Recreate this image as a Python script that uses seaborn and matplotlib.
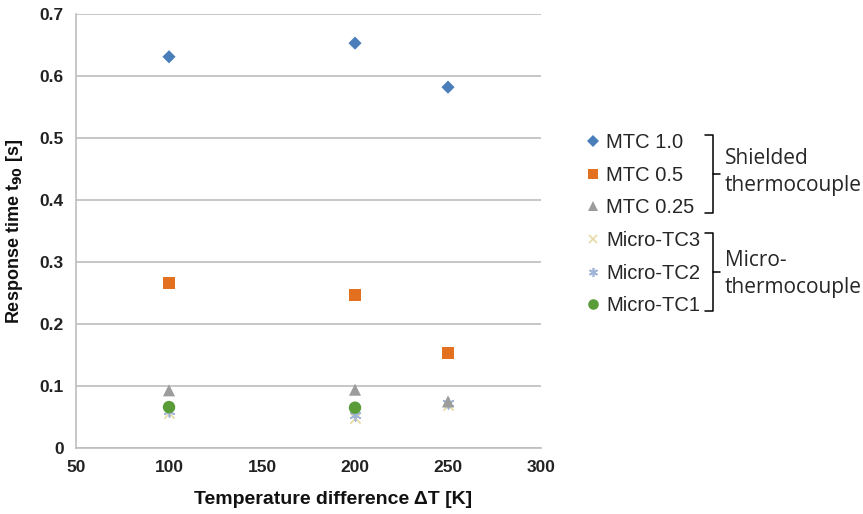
import matplotlib
matplotlib.use("Agg")
import matplotlib.pyplot as plt
import numpy as np
import pandas as pd
import seaborn as sns
from matplotlib.lines import Line2D

# Data
delta_t = [100, 200, 250]
mtc_10 = [0.631, 0.653, 0.582]
mtc_05 = [0.266, 0.247, 0.153]
mtc_025 = [0.093, 0.094, 0.075]
micro_tc3 = [0.056, 0.049, 0.069]
micro_tc2 = [0.060, 0.054, 0.072]
micro_tc1 = [0.066, 0.065, np.nan]

series_names = ["MTC 1.0", "MTC 0.5", "MTC 0.25", "Micro-TC3", "Micro-TC2", "Micro-TC1"]
series_vals = [mtc_10, mtc_05, mtc_025, micro_tc3, micro_tc2, micro_tc1]
colors = ["#4A7EBB", "#E2701E", "#9C9C9C", "#E6D9A2", "#9FB4D6", "#5A9C38"]
markers = ["D", "s", "^", "x", (6, 2, 0), "o"]
sizes = [45, 75, 75, 55, 60, 80]
layer = [6, 6, 6, 3, 4, 5]

rows = []
for name, vals in zip(series_names, series_vals):
    for x, y in zip(delta_t, vals):
        rows.append({"dT": x, "t90": y, "series": name})
df = pd.DataFrame(rows).dropna()

sns.set_style("white")
plt.rcParams["font.family"] = ["Liberation Sans", "DejaVu Sans"]

fig = plt.figure(figsize=(8.63, 5.14), dpi=100)
ax = fig.add_axes([76 / 863, 1 - 448 / 514, 465 / 863, 434 / 514])

for name, col, mk, sz, z in zip(series_names, colors, markers, sizes, layer):
    sub = df[df["series"] == name]
    lw = 1.2 if mk in ("x", (6, 2, 0)) else 0
    sns.scatterplot(data=sub, x="dT", y="t90", ax=ax, color=col, marker=mk,
                    s=sz, linewidth=lw, edgecolor=col if lw else "none",
                    legend=False, zorder=z)

ax.set_xlim(50, 300)
ax.set_ylim(0, 0.7)
ax.set_xticks(np.arange(50, 301, 50))
ax.set_yticks(np.arange(0, 0.71, 0.1))
ax.set_yticklabels(["0"] + [f"{v:.1f}" for v in np.arange(0.1, 0.71, 0.1)])
ax.yaxis.grid(True, color="#BEBEBE", linewidth=1.2)
ax.xaxis.grid(False)
for s in ["top", "right"]:
    ax.spines[s].set_visible(False)
for s in ["left", "bottom"]:
    ax.spines[s].set_color("#BEBEBE")
    ax.spines[s].set_linewidth(1.2)
ax.tick_params(axis="both", which="both", length=5, color="#BEBEBE",
               labelsize=12.5, pad=4)
for lab in ax.get_xticklabels() + ax.get_yticklabels():
    lab.set_fontweight("bold")
    lab.set_color("#222222")

ax.set_xlabel("Temperature difference ΔT [K]", fontsize=14,
              fontweight="bold", color="#111111")
ax.xaxis.set_label_coords(0.553, -0.098)
ax.set_ylabel("Response time t$_{\\mathbf{90}}$ [s]", fontsize=13,
              fontweight="bold", labelpad=10, color="#111111")

# legend
handles = []
for col, mk, sz in zip(colors, markers, sizes):
    ms = np.sqrt(sz) * 0.85
    handles.append(Line2D([], [], linestyle="none", marker=mk, color=col,
                          markersize=ms, markeredgewidth=1.2 if mk in ("x", (6, 2, 0)) else 0))
fig.legend(handles, series_names, loc="upper left",
           bbox_to_anchor=(586 / 863, 1 - 133 / 514), frameon=False,
           fontsize=14.5, handlelength=0.7, handletextpad=0.3,
           labelspacing=0.68, borderaxespad=0, borderpad=0)


def px(x, y):
    return x / 863, 1 - y / 514


def bracket(top, bottom, x=713, hook=8, tip=7):
    mid = (top + bottom) / 2
    pts = [(x - hook, top), (x, top), (x, bottom), (x - hook, bottom)]
    xs, ys = zip(*[px(a, b) for a, b in pts])
    fig.add_artist(Line2D(xs, ys, color="black", linewidth=1.1))
    xs, ys = zip(px(x, mid), px(x + tip, mid))
    fig.add_artist(Line2D(xs, ys, color="black", linewidth=1.1))


bracket(135, 213)
bracket(233, 311)

grp_font = ["Open Sans", "DejaVu Sans"]
fig.text(*px(725, 158), "Shielded", fontsize=15, family=grp_font, va="center")
fig.text(*px(725, 186), "thermocouple", fontsize=15, family=grp_font, va="center")
fig.text(*px(725, 260), "Micro-", fontsize=15, family=grp_font, va="center")
fig.text(*px(725, 288), "thermocouple", fontsize=15, family=grp_font, va="center")

fig.savefig("out.png", dpi=100)
